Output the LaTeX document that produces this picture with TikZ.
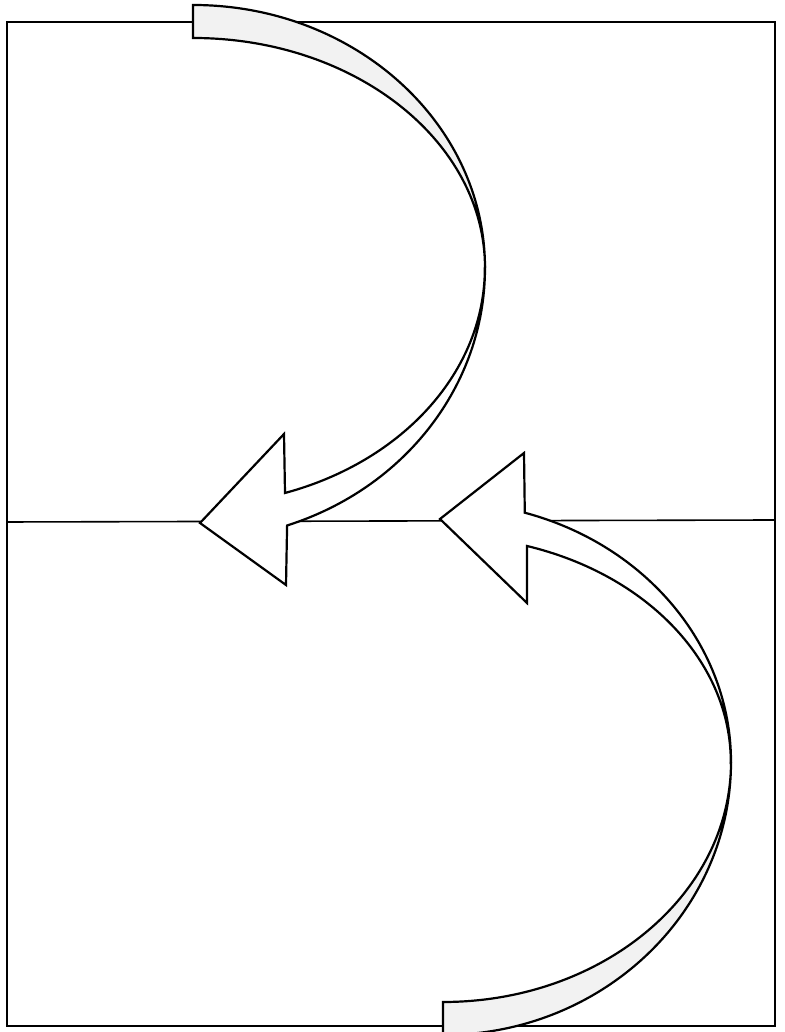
\documentclass[tikz,border=0pt]{standalone}
\usepackage{xcolor}
\usepackage{tikz}
\definecolor{RibbonBack}{gray}{0.95}

\begin{document}
\begin{tikzpicture}[x=0.5mm,y=0.5mm,
  frameline/.style={black, line width=0.8mm},
  ribbon/.style={draw=black, line width=1.1mm, line join=miter},
  ribbonback/.style={ribbon, fill=RibbonBack},
  ribbonfront/.style={ribbon, fill=white}]
  \useasboundingbox (0,0) rectangle (784,1032);
  \clip (0,0) rectangle (784,1032);

  % ----- FRAME (drawn first) -----
  \draw[frameline] (7,6) rectangle (775,1010);
  \draw[frameline] (7,510) -- (775,512);

  % ----- UPPER ARROW -----
  \coordinate (twistA) at (485,764);
  % back side: tail up to the twist
  \filldraw[ribbonback] (193,1027)
    arc[start angle=90, end angle=0, x radius=292, y radius=263]
    arc[start angle=0, end angle=90, x radius=292, y radius=230] -- cycle;
  % front side: twist down to the head
  \filldraw[ribbonfront] (twistA)
    arc[start angle=0, end angle=-71.2, x radius=292, y radius=272]
    -- (286,447) -- (200,509) -- (284,598) -- (285,539)
    arc[start angle=-71.6, end angle=0, x radius=292, y radius=237] -- cycle;

  % ----- LOWER ARROW -----
  \coordinate (twistB) at (731,270);
  % back side: twist down to the tail
  \filldraw[ribbonback] (twistB)
    arc[start angle=0, end angle=-90, x radius=288, y radius=240]
    -- (443,-3)
    arc[start angle=-90, end angle=0, x radius=288, y radius=273] -- cycle;
  % front side: twist up to the head
  \filldraw[ribbonfront] (twistB)
    arc[start angle=0, end angle=73.5, x radius=288, y radius=260]
    -- (524,579) -- (440,513) -- (527,429) -- (527,486)
    arc[start angle=73.0, end angle=0, x radius=288, y radius=226] -- cycle;
\end{tikzpicture}
\end{document}
